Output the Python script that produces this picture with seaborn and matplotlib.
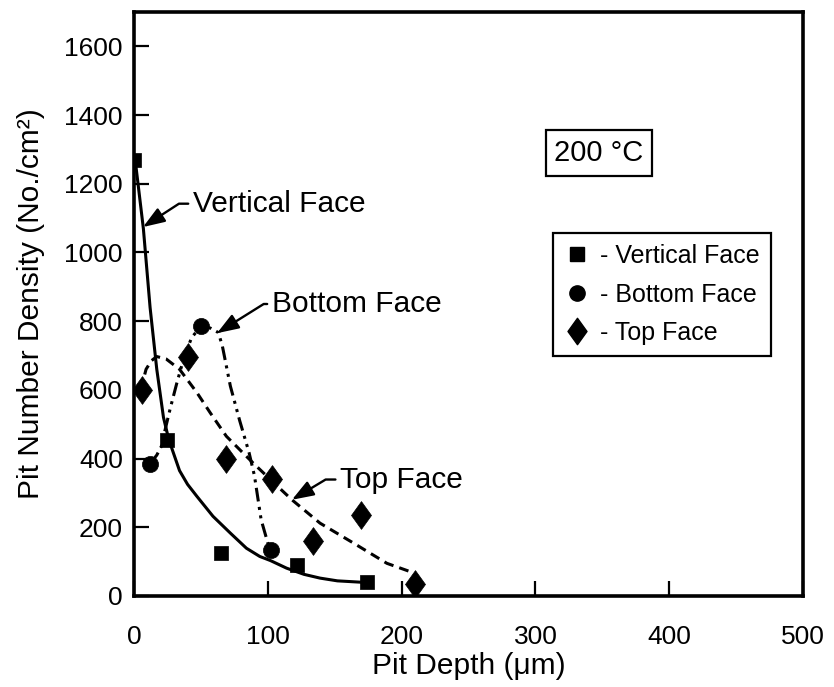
import matplotlib
matplotlib.use("Agg")
import matplotlib.pyplot as plt
import seaborn as sns
from matplotlib.lines import Line2D
from matplotlib.markers import MarkerStyle
from matplotlib.path import Path

# Measured pit densities at 200 °C
vert_depth = [0, 25, 65, 122, 174]
vert_density = [1270, 455, 125, 90, 40]

bottom_depth = [12, 50, 102]
bottom_density = [385, 785, 135]

top_depth = [6, 40, 69, 103, 134, 170, 210]
top_density = [600, 695, 400, 340, 160, 235, 35]

# Hand-drawn trend curves through each data set
vert_curve_x = [1, 7, 12, 17, 22, 26, 30, 34, 40, 47, 59, 72, 84, 94, 102, 114, 127, 139, 152, 170]
vert_curve_y = [1265, 1069, 840, 660, 520, 455, 410, 365, 325, 290, 232, 183, 139, 115, 103, 81, 63, 52, 44, 40]

bottom_curve_x = [12, 17, 21, 23, 27, 32, 37, 43, 50, 57, 63, 66, 72, 79, 86, 90, 95, 100, 102]
bottom_curve_y = [385, 410, 440, 480, 545, 620, 689, 752, 785, 780, 767, 728, 611, 510, 417, 350, 222, 154, 135]

top_curve_x = [5, 9, 13, 17, 24, 34, 47, 57, 69, 79, 89, 103, 118, 139, 164, 189, 207]
top_curve_y = [600, 660, 685, 697, 690, 660, 592, 533, 465, 426, 387, 335, 280, 212, 154, 95, 70]

x_ticks = [0, 100, 200, 300, 400, 500]
y_ticks = [0, 200, 400, 600, 800, 1000, 1200, 1400, 1600]

sns.set_style("ticks")
plt.rcParams["font.family"] = ["Liberation Sans", "DejaVu Sans"]
plt.rcParams["text.color"] = "black"
plt.rcParams["axes.labelcolor"] = "black"

fig = plt.figure(figsize=(8.34, 6.87), dpi=100)
ax = fig.add_axes([0.1607, 0.1325, 0.8022, 0.8500])

# Trend curves
line_w = 2.2
sns.lineplot(x=vert_curve_x, y=vert_curve_y, ax=ax, color="black", lw=line_w,
             sort=False, estimator=None, zorder=2)
sns.lineplot(x=bottom_curve_x, y=bottom_curve_y, ax=ax, color="black", lw=line_w,
             sort=False, estimator=None, linestyle=(0, (4.5, 1.8, 1, 1.8, 1, 1.8)), zorder=2)
sns.lineplot(x=top_curve_x, y=top_curve_y, ax=ax, color="black", lw=line_w,
             sort=False, estimator=None, linestyle=(0, (3.2, 2.0)), zorder=2)

# Tall diamond marker
tall_diamond = MarkerStyle(Path([(0, 1), (0.72, 0), (0, -1), (-0.72, 0), (0, 1)],
                                [Path.MOVETO, Path.LINETO, Path.LINETO, Path.LINETO, Path.CLOSEPOLY]))

sns.scatterplot(x=vert_depth, y=vert_density, ax=ax, marker="s", s=105,
                color="black", edgecolor="black", linewidth=0.5, zorder=3)
sns.scatterplot(x=bottom_depth, y=bottom_density, ax=ax, marker="o", s=135,
                color="black", edgecolor="black", linewidth=0.5, zorder=3)
sns.scatterplot(x=top_depth, y=top_density, ax=ax, marker=tall_diamond, s=400,
                color="black", edgecolor="black", linewidth=0.5, zorder=3)

ax.set_xlim(0, 500)
ax.set_ylim(0, 1700)
ax.set_xticks(x_ticks)
ax.set_yticks(y_ticks)
ax.tick_params(axis="both", direction="in", length=11, width=1.6, labelsize=19,
               color="black", labelcolor="black")
ax.tick_params(axis="x", pad=21)
ax.tick_params(axis="y", pad=8)
for side in ["left", "right", "top", "bottom"]:
    ax.spines[side].set_visible(True)
    ax.spines[side].set_linewidth(2.6)
    ax.spines[side].set_color("black")

ax.set_xlabel("Pit Depth (\u03bcm)", fontsize=21.5, labelpad=2, color="black")
ax.set_ylabel("Pit Number Density (No./cm\u00b2)", fontsize=21.5, labelpad=14, color="black")

# Curve annotations
arrow_kw = dict(arrowstyle="-|>,head_length=0.55,head_width=0.2", color="black", lw=1.7,
                mutation_scale=24, shrinkA=1, shrinkB=0)
ax.annotate("Vertical Face", xy=(6.7, 1074), xytext=(44, 1142), fontsize=21.5,
            ha="left", va="center", color="black",
            arrowprops=dict(connectionstyle="angle,angleA=0,angleB=33,rad=0", **arrow_kw))
ax.annotate("Bottom Face", xy=(62, 765), xytext=(103, 850), fontsize=21.5,
            ha="left", va="center", color="black",
            arrowprops=dict(connectionstyle="angle,angleA=0,angleB=32,rad=0", **arrow_kw))
ax.annotate("Top Face", xy=(118, 280), xytext=(154, 339), fontsize=21.5,
            ha="left", va="center", color="black",
            arrowprops=dict(connectionstyle="angle,angleA=0,angleB=31,rad=0", **arrow_kw))

# Temperature label
ax.text(347.5, 1290, "200 \u00b0C", fontsize=21, ha="center", va="center", color="black",
        bbox=dict(boxstyle="square,pad=0.3", facecolor="white", edgecolor="black", lw=1.6))

# Legend
handles = [
    Line2D([], [], marker="s", color="black", linestyle="none", markersize=9.5),
    Line2D([], [], marker="o", color="black", linestyle="none", markersize=11),
    Line2D([], [], marker=tall_diamond, color="black", linestyle="none", markersize=19),
]
labels = ["- Vertical Face", "- Bottom Face", "- Top Face"]
leg = ax.legend(handles, labels, loc="upper left", bbox_to_anchor=(0.626, 0.6216),
                frameon=True, fancybox=False, edgecolor="black", framealpha=1,
                fontsize=18, handlelength=1.0, handletextpad=0.45,
                labelspacing=0.58, borderpad=0.45, borderaxespad=0)
leg.get_frame().set_linewidth(1.6)
for t in leg.get_texts():
    t.set_color("black")

fig.savefig("out.png", dpi=100)
